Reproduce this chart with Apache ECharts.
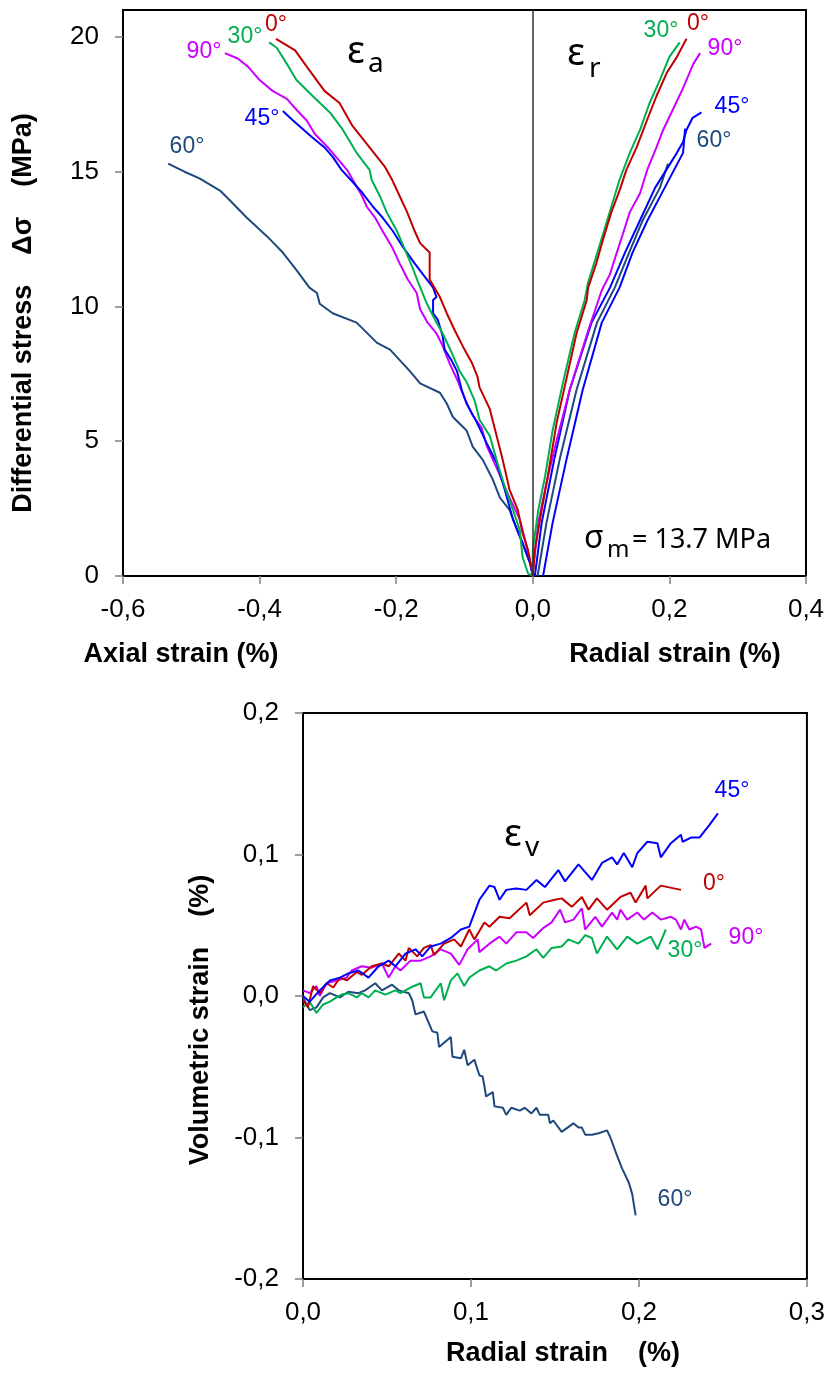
<!DOCTYPE html>
<html><head><meta charset="utf-8">
<script src="https://cdn.jsdelivr.net/npm/echarts@6/dist/echarts.min.js"></script>
<style>html,body{margin:0;padding:0;background:#fff}#c{width:828px;height:1373px}</style>
</head><body><div id="c"></div>
<script>
// ---------- DATA ----------
const angleLabels = ['0°', '30°', '45°', '60°', '90°'];
const topXTicks = [-0.6, -0.4, -0.2, 0.0, 0.2, 0.4];
const topYTicks = [0, 5, 10, 15, 20];
const botXTicks = [0.0, 0.1, 0.2, 0.3];
const botYTicks = [-0.2, -0.1, 0.0, 0.1, 0.2];
const sigmaM = '13.7 MPa';

// Axial strain (%) vs differential stress (MPa)
const axial0 = [[0,0],[-0.001,0.2],[-0.007,0.96],[-0.015,1.6],[-0.022,2.45],[-0.034,3.2],[-0.044,4.3],[-0.053,5.2],[-0.063,6.2],[-0.078,7.0],[-0.081,7.4],[-0.089,7.9],[-0.102,8.5],[-0.114,9.1],[-0.126,9.75],[-0.136,10.35],[-0.151,11.0],[-0.151,12.0],[-0.165,12.35],[-0.173,12.8],[-0.184,13.5],[-0.195,14.1],[-0.206,14.7],[-0.217,15.2],[-0.239,15.9],[-0.264,16.7],[-0.283,17.55],[-0.305,18.0],[-0.331,18.9],[-0.348,19.5],[-0.376,19.93]];
const axial30 = [[0,0],[-0.007,0.1],[-0.015,0.7],[-0.019,1.7],[-0.029,2.45],[-0.041,3.3],[-0.053,4.3],[-0.063,5.2],[-0.078,5.8],[-0.085,6.5],[-0.097,7.2],[-0.107,7.6],[-0.119,8.3],[-0.132,9.0],[-0.143,9.5],[-0.155,10.1],[-0.168,10.9],[-0.177,11.5],[-0.187,12.1],[-0.199,12.8],[-0.214,13.5],[-0.224,14.1],[-0.236,14.7],[-0.239,15.07],[-0.258,15.7],[-0.278,16.55],[-0.297,17.2],[-0.322,17.8],[-0.346,18.4],[-0.360,19.0],[-0.375,19.6],[-0.386,19.8]];
const axial45 = [[0,0],[-0.004,0.48],[-0.016,1.3],[-0.029,2.1],[-0.041,3.2],[-0.053,4.2],[-0.067,4.9],[-0.082,5.7],[-0.097,6.4],[-0.104,6.9],[-0.111,7.6],[-0.119,8.0],[-0.129,8.4],[-0.132,8.9],[-0.139,9.5],[-0.146,9.75],[-0.146,10.24],[-0.141,10.35],[-0.146,10.7],[-0.158,11.1],[-0.173,11.6],[-0.190,12.2],[-0.205,12.8],[-0.220,13.3],[-0.234,13.7],[-0.249,14.2],[-0.263,14.6],[-0.280,15.07],[-0.293,15.55],[-0.305,15.9],[-0.324,16.3],[-0.351,16.9],[-0.366,17.25]];
const axial60 = [[0,0],[-0.004,0.48],[-0.015,1.2],[-0.023,1.7],[-0.034,2.45],[-0.048,2.9],[-0.059,3.6],[-0.073,4.3],[-0.088,4.8],[-0.097,5.4],[-0.117,5.9],[-0.126,6.4],[-0.136,6.8],[-0.165,7.15],[-0.180,7.6],[-0.209,8.4],[-0.228,8.65],[-0.258,9.4],[-0.293,9.75],[-0.312,10.1],[-0.316,10.5],[-0.327,10.7],[-0.346,11.35],[-0.366,12.0],[-0.389,12.6],[-0.419,13.3],[-0.444,13.95],[-0.458,14.3],[-0.488,14.75],[-0.510,15.0],[-0.534,15.3]];
const axial90 = [[0,0],[0,0.1],[-0.009,1.1],[-0.019,2.1],[-0.034,2.9],[-0.051,3.9],[-0.067,4.8],[-0.075,5.5],[-0.089,6.0],[-0.100,6.6],[-0.111,7.3],[-0.122,7.9],[-0.133,8.6],[-0.141,9.0],[-0.154,9.4],[-0.165,9.9],[-0.170,10.5],[-0.183,11.0],[-0.195,11.6],[-0.206,12.2],[-0.220,12.8],[-0.231,13.3],[-0.243,13.7],[-0.250,14.1],[-0.272,15.07],[-0.300,15.9],[-0.319,16.4],[-0.331,16.9],[-0.346,17.3],[-0.360,17.7],[-0.381,18.0],[-0.400,18.4],[-0.417,18.9],[-0.432,19.2],[-0.451,19.4]];

// Radial strain (%) vs differential stress (MPa)
const radial0 = [[0,0],[0.003,0.96],[0.013,2.45],[0.022,3.7],[0.035,5.7],[0.050,7.4],[0.064,9.0],[0.079,10.24],[0.081,10.7],[0.093,11.6],[0.103,12.5],[0.115,13.5],[0.127,14.3],[0.137,15.07],[0.152,15.9],[0.167,16.9],[0.181,17.8],[0.196,18.66],[0.211,19.26],[0.225,19.93]];
const radial30 = [[0,0],[0,0.96],[0.008,2.45],[0.018,3.7],[0.029,5.4],[0.044,7.15],[0.061,9.0],[0.076,10.24],[0.081,10.9],[0.091,11.7],[0.103,12.7],[0.115,13.7],[0.127,14.7],[0.142,15.7],[0.157,16.55],[0.171,17.55],[0.186,18.4],[0.200,19.26],[0.215,19.8]];
const radial45a = [[0.003,0],[0.013,1.97],[0.032,4.4],[0.054,6.9],[0.086,9.4],[0.113,10.7],[0.135,12.0],[0.157,13.2],[0.179,14.4],[0.211,15.7],[0.220,16.1],[0.225,16.55],[0.234,17.0],[0.247,17.2]];
const radial45b = [[0.015,0],[0.029,1.97],[0.050,4.4],[0.073,6.9],[0.101,9.4],[0.127,10.7],[0.146,12.0],[0.168,13.2],[0.193,14.4],[0.220,15.7],[0.223,16.6]];
const radial60 = [[0.007,0],[0.020,1.97],[0.040,4.4],[0.064,6.9],[0.094,9.4],[0.120,10.7],[0.141,12.0],[0.161,13.2],[0.186,14.4],[0.198,15.3]];
const radial90 = [[0,0],[0,0.1],[0.008,1.97],[0.020,3.45],[0.035,5.05],[0.054,6.9],[0.081,9.1],[0.101,10.6],[0.113,11.2],[0.123,12.0],[0.132,12.7],[0.142,13.5],[0.157,14.2],[0.168,15.1],[0.181,15.9],[0.190,16.5],[0.205,17.3],[0.220,18.1],[0.235,19.0],[0.245,19.4]];

// Radial strain (%) vs volumetric strain (%)
const vol0 = [[0,-0.003],[0.003,-0.008],[0.006,0.007],[0.010,0.002],[0.014,0.009],[0.018,0.006],[0.022,0.013],[0.026,0.011],[0.032,0.017],[0.035,0.015],[0.041,0.021],[0.047,0.023],[0.051,0.021],[0.057,0.030],[0.061,0.025],[0.063,0.034],[0.068,0.028],[0.072,0.034],[0.076,0.036],[0.078,0.029],[0.084,0.037],[0.090,0.040],[0.094,0.035],[0.099,0.047],[0.102,0.040],[0.108,0.052],[0.111,0.049],[0.117,0.056],[0.123,0.055],[0.133,0.066],[0.135,0.057],[0.143,0.066],[0.150,0.068],[0.154,0.069],[0.160,0.063],[0.166,0.070],[0.170,0.061],[0.175,0.069],[0.181,0.061],[0.189,0.070],[0.195,0.073],[0.198,0.066],[0.204,0.078],[0.205,0.069],[0.213,0.078],[0.225,0.075]];
const vol30 = [[0,-0.008],[0.004,-0.004],[0.008,-0.012],[0.012,-0.006],[0.016,-0.004],[0.020,-0.001],[0.023,0.001],[0.027,0.002],[0.032,-0.001],[0.035,0.002],[0.039,-0.001],[0.043,0.004],[0.049,0.001],[0.055,0.004],[0.058,0.002],[0.064,0.006],[0.070,0.009],[0.072,-0.001],[0.076,-0.001],[0.082,0.009],[0.084,-0.003],[0.088,0.011],[0.092,0.016],[0.096,0.007],[0.099,0.013],[0.105,0.018],[0.111,0.021],[0.115,0.018],[0.121,0.023],[0.127,0.025],[0.133,0.028],[0.139,0.033],[0.143,0.027],[0.148,0.034],[0.154,0.035],[0.158,0.040],[0.164,0.037],[0.168,0.043],[0.172,0.041],[0.175,0.030],[0.181,0.042],[0.187,0.033],[0.193,0.042],[0.199,0.037],[0.207,0.042],[0.211,0.033],[0.216,0.047]];
const vol45 = [[0,0],[0.004,-0.004],[0.010,0.004],[0.016,0.011],[0.022,0.013],[0.027,0.016],[0.033,0.018],[0.039,0.013],[0.045,0.021],[0.051,0.025],[0.055,0.021],[0.061,0.030],[0.067,0.033],[0.071,0.028],[0.076,0.035],[0.082,0.037],[0.088,0.041],[0.094,0.047],[0.099,0.049],[0.105,0.068],[0.111,0.078],[0.114,0.077],[0.117,0.068],[0.121,0.075],[0.127,0.076],[0.133,0.075],[0.139,0.082],[0.144,0.077],[0.152,0.089],[0.156,0.081],[0.164,0.093],[0.172,0.082],[0.178,0.094],[0.184,0.098],[0.187,0.093],[0.191,0.101],[0.196,0.091],[0.199,0.101],[0.205,0.109],[0.211,0.108],[0.213,0.098],[0.219,0.108],[0.225,0.114],[0.226,0.109],[0.231,0.112],[0.236,0.112],[0.242,0.121],[0.247,0.129]];
const vol60 = [[0,-0.001],[0.004,-0.010],[0.008,-0.008],[0.012,-0.001],[0.016,0.002],[0.022,-0.001],[0.027,0.003],[0.033,0.002],[0.037,0.004],[0.043,0.009],[0.047,0.004],[0.053,0.008],[0.057,0.004],[0.063,0.002],[0.065,-0.003],[0.067,-0.013],[0.072,-0.011],[0.077,-0.025],[0.080,-0.026],[0.081,-0.036],[0.088,-0.029],[0.089,-0.043],[0.094,-0.044],[0.096,-0.038],[0.098,-0.049],[0.102,-0.045],[0.105,-0.056],[0.107,-0.057],[0.109,-0.071],[0.113,-0.068],[0.114,-0.078],[0.119,-0.079],[0.121,-0.084],[0.124,-0.079],[0.129,-0.081],[0.132,-0.079],[0.136,-0.083],[0.139,-0.079],[0.141,-0.084],[0.146,-0.084],[0.147,-0.090],[0.149,-0.088],[0.154,-0.096],[0.161,-0.090],[0.164,-0.093],[0.166,-0.093],[0.168,-0.098],[0.172,-0.098],[0.176,-0.097],[0.181,-0.095],[0.183,-0.100],[0.187,-0.113],[0.190,-0.122],[0.194,-0.132],[0.196,-0.140],[0.198,-0.155]];
const vol90 = [[0,0.004],[0.004,0.002],[0.008,0.007],[0.010,0.000],[0.014,0.009],[0.020,0.011],[0.026,0.013],[0.029,0.018],[0.035,0.021],[0.041,0.020],[0.047,0.023],[0.051,0.013],[0.055,0.021],[0.058,0.018],[0.064,0.025],[0.070,0.025],[0.076,0.028],[0.082,0.033],[0.088,0.030],[0.093,0.022],[0.098,0.033],[0.104,0.040],[0.105,0.031],[0.111,0.037],[0.117,0.042],[0.121,0.037],[0.127,0.045],[0.133,0.045],[0.137,0.041],[0.143,0.048],[0.148,0.052],[0.153,0.061],[0.156,0.052],[0.161,0.054],[0.166,0.062],[0.168,0.047],[0.174,0.056],[0.178,0.049],[0.184,0.059],[0.187,0.054],[0.189,0.061],[0.193,0.054],[0.199,0.059],[0.203,0.054],[0.208,0.059],[0.213,0.054],[0.219,0.056],[0.222,0.054],[0.225,0.047],[0.227,0.054],[0.230,0.047],[0.234,0.049],[0.237,0.047],[0.239,0.034],[0.243,0.037]];

// ---------- STYLE ----------
const C = {'0°':'#C00000','30°':'#00B050','45°':'#0000FF','60°':'#1F497D','90°':'#CC00FF'};
const ARIAL = '"Liberation Sans", Arial, sans-serif';
const CAL = '"Noto Sans", "Open Sans", sans-serif';
const fmt = v => { const s = (Math.round(v*10)/10).toFixed(1).replace('.', ','); return s === '-0,0' ? '0,0' : s; };

function ln(data, ang, gi, extra) {
  return Object.assign({type:'line', xAxisIndex:gi, yAxisIndex:gi, data, showSymbol:false, symbol:'none',
    lineStyle:{color:C[ang], width:2}, itemStyle:{color:C[ang]}, silent:true, animation:false, z:3}, extra||{});
}

function axisCommon() {
  return {
    axisLine:{show:true, onZero:false, lineStyle:{color:'#000', width:2}},
    axisTick:{show:true, length:8, lineStyle:{color:'#7f7f7f', width:1.5}},
    axisLabel:{color:'#000', fontSize:26, fontFamily:ARIAL},
    splitLine:{show:false}
  };
}

const chart = echarts.init(document.getElementById('c'), null, {renderer:'canvas'});

const xTop = Object.assign(axisCommon(), {type:'value', gridIndex:0, min:topXTicks[0], max:topXTicks[topXTicks.length-1], interval:0.2});
xTop.axisLabel = Object.assign(xTop.axisLabel, {formatter:fmt, margin:21});
const yTop = Object.assign(axisCommon(), {type:'value', gridIndex:0, min:0, max:21, interval:5});
yTop.axisLabel = Object.assign(yTop.axisLabel, {margin:24, customValues:topYTicks, formatter: v => String(v)});
yTop.axisTick = Object.assign(yTop.axisTick, {customValues:topYTicks});

const xBot = Object.assign(axisCommon(), {type:'value', gridIndex:1, min:botXTicks[0], max:botXTicks[botXTicks.length-1], interval:0.1});
xBot.axisLabel = Object.assign(xBot.axisLabel, {formatter:fmt, margin:21});
const yBot = Object.assign(axisCommon(), {type:'value', gridIndex:1, min:botYTicks[0], max:botYTicks[botYTicks.length-1], interval:0.1});
yBot.axisLabel = Object.assign(yBot.axisLabel, {formatter:fmt, margin:24});

function txt(x, y, text, color, font, opts) {
  return Object.assign({type:'text', x, y, silent:true, z:10,
    style:Object.assign({text, fill:color, font, textAlign:'center', textVerticalAlign:'middle'}, opts||{})});
}
// text placed by its top edge, top computed from the wanted baseline
function sub(x, base, text, size) {
  return txt(x, base - 0.82*size, text, '#000', size + 'px ' + CAL, {textAlign:'left', textVerticalAlign:'top'});
}
const lblFont = '23px ' + ARIAL;
const titleFont = 'bold 27px ' + ARIAL;

const graphics = [
  // axis titles
  Object.assign(txt(24, 313, 'Differential stress    \u0394\u03c3    (MPa)', '#000', titleFont), {rotation:Math.PI/2}),
  txt(181, 655, 'Axial strain (%)', '#000', titleFont),
  txt(675, 655, 'Radial strain (%)', '#000', titleFont),
  Object.assign(txt(201, 1020, 'Volumetric strain    (%)', '#000', titleFont), {rotation:Math.PI/2}),
  txt(563, 1354, 'Radial strain    (%)', '#000', titleFont),
  // strain symbols
  sub(347, 64, '\u03b5', 38), sub(368, 73, 'a', 28),
  sub(567, 66, '\u03b5', 38), sub(589, 78, 'r', 28),
  sub(504, 847, '\u03b5', 38), sub(525, 857, 'v', 28),
  sub(584, 549, '\u03c3', 32), sub(607, 558, 'm', 24), sub(632, 549, '= ' + sigmaM, 27),
  // curve labels, top-left (axial)
  txt(276, 25, angleLabels[0], C['0°'], lblFont),
  txt(245, 37, angleLabels[1], C['30°'], lblFont),
  txt(204, 52, angleLabels[4], C['90°'], lblFont),
  txt(262, 119, angleLabels[2], C['45°'], lblFont),
  txt(187, 147, angleLabels[3], C['60°'], lblFont),
  // top-right (radial)
  txt(661, 31, angleLabels[1], C['30°'], lblFont),
  txt(698, 24, angleLabels[0], C['0°'], lblFont),
  txt(725, 49, angleLabels[4], C['90°'], lblFont),
  txt(732, 107, angleLabels[2], C['45°'], lblFont),
  txt(714, 141, angleLabels[3], C['60°'], lblFont),
  // bottom (volumetric)
  txt(732, 791, angleLabels[2], C['45°'], lblFont),
  txt(714, 884, angleLabels[0], C['0°'], lblFont),
  txt(746, 938, angleLabels[4], C['90°'], lblFont),
  txt(685, 951, angleLabels[1], C['30°'], lblFont),
  txt(675, 1200, angleLabels[3], C['60°'], lblFont)
];

const option = {
  animation:false,
  backgroundColor:'#fff',
  grid:[
    {left:123, top:10, width:683, height:566, show:true, borderColor:'#000', borderWidth:2, backgroundColor:'transparent'},
    {left:303, top:713, width:512, height:566, show:true, borderColor:'#000', borderWidth:2, backgroundColor:'transparent'}
  ],
  xAxis:[xTop, xBot],
  yAxis:[yTop, yBot],
  series:[
    ln(axial60, '60°', 0, {markLine:{silent:true, symbol:'none', animation:false, label:{show:false},
      lineStyle:{color:'#333', width:1.5, type:'solid'}, data:[{xAxis:0}]}}),
    ln(axial90, '90°', 0), ln(axial45, '45°', 0), ln(axial30, '30°', 0), ln(axial0, '0°', 0),
    ln(radial60, '60°', 0), ln(radial45a, '45°', 0), ln(radial45b, '45°', 0), ln(radial90, '90°', 0), ln(radial30, '30°', 0), ln(radial0, '0°', 0),
    ln(vol60, '60°', 1), ln(vol30, '30°', 1), ln(vol90, '90°', 1), ln(vol0, '0°', 1), ln(vol45, '45°', 1)
  ],
  graphic:graphics
};
chart.setOption(option);
</script></body></html>
